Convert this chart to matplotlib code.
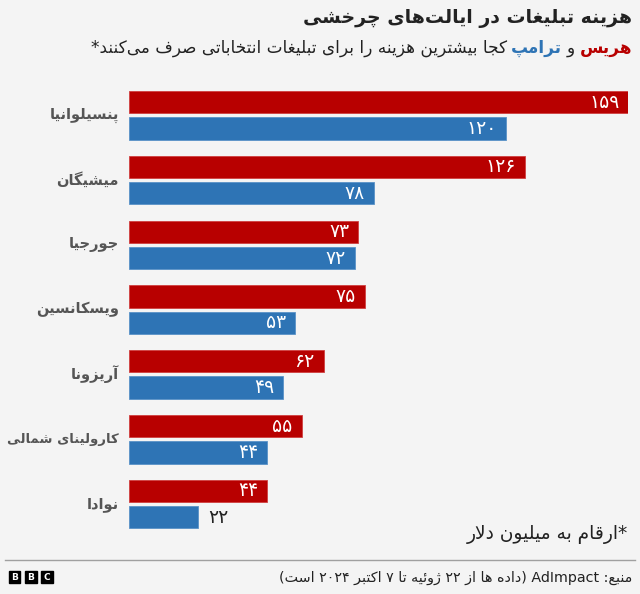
import re
import numpy as np
import matplotlib
matplotlib.use("Agg")
import matplotlib.pyplot as plt
from matplotlib.patches import Rectangle

# data
states = ["پنسیلوانیا", "میشیگان", "جورجیا", "ویسکانسین", "آریزونا", "کارولینای شمالی", "نوادا"]
harris = [159, 126, 73, 75, 62, 55, 44]
trump = [120, 78, 72, 53, 49, 44, 22]

title = "هزینه تبلیغات در ایالت‌های چرخشی"
subtitle_parts = ["هریس", "و", "ترامپ", "کجا بیشترین هزینه را برای تبلیغات انتخاباتی صرف می‌کنند*"]
note = "*ارقام به میلیون دلار"
source = "منبع: AdImpact (داده ها از ۲۲ ژوئیه تا ۷ اکتبر ۲۰۲۴ است)"

RED = "#B80000"
BLUE = "#2E74B5"
DARK = "#222222"
GREY = "#555555"
BG = "#F4F4F4"

# --- minimal arabic/persian shaping (isolated, final, initial, medial)
FORMS = {
    "\u0627": ("\uFE8D", "\uFE8E", None, None),
    "\u0622": ("\uFE81", "\uFE82", None, None),
    "\u0628": ("\uFE8F", "\uFE90", "\uFE91", "\uFE92"),
    "\u067E": ("\uFB56", "\uFB57", "\uFB58", "\uFB59"),
    "\u062A": ("\uFE95", "\uFE96", "\uFE97", "\uFE98"),
    "\u062C": ("\uFE9D", "\uFE9E", "\uFE9F", "\uFEA0"),
    "\u0686": ("\uFB7A", "\uFB7B", "\uFB7C", "\uFB7D"),
    "\u062E": ("\uFEA5", "\uFEA6", "\uFEA7", "\uFEA8"),
    "\u062F": ("\uFEA9", "\uFEAA", None, None),
    "\u0631": ("\uFEAD", "\uFEAE", None, None),
    "\u0632": ("\uFEAF", "\uFEB0", None, None),
    "\u0698": ("\uFB8A", "\uFB8B", None, None),
    "\u0633": ("\uFEB1", "\uFEB2", "\uFEB3", "\uFEB4"),
    "\u0634": ("\uFEB5", "\uFEB6", "\uFEB7", "\uFEB8"),
    "\u0635": ("\uFEB9", "\uFEBA", "\uFEBB", "\uFEBC"),
    "\u0639": ("\uFEC9", "\uFECA", "\uFECB", "\uFECC"),
    "\u063A": ("\uFECD", "\uFECE", "\uFECF", "\uFED0"),
    "\u0641": ("\uFED1", "\uFED2", "\uFED3", "\uFED4"),
    "\u0642": ("\uFED5", "\uFED6", "\uFED7", "\uFED8"),
    "\u06A9": ("\uFB8E", "\uFB8F", "\uFB90", "\uFB91"),
    "\u06AF": ("\uFB92", "\uFB93", "\uFB94", "\uFB95"),
    "\u0644": ("\uFEDD", "\uFEDE", "\uFEDF", "\uFEE0"),
    "\u0645": ("\uFEE1", "\uFEE2", "\uFEE3", "\uFEE4"),
    "\u0646": ("\uFEE5", "\uFEE6", "\uFEE7", "\uFEE8"),
    "\u0648": ("\uFEED", "\uFEEE", None, None),
    "\u0647": ("\uFEE9", "\uFEEA", "\uFEEB", "\uFEEC"),
    "\u06CC": ("\uFBFC", "\uFBFD", "\uFBFE", "\uFBFF"),
    "\u0626": ("\uFE89", "\uFE8A", "\uFE8B", "\uFE8C"),
}


def shape(s):
    out = []
    i = 0
    n = len(s)
    while i < n:
        c = s[i]
        if c not in FORMS:
            out.append(c)
            i += 1
            continue
        prev = s[i - 1] if i > 0 else ""
        join_prev = prev in FORMS and FORMS[prev][2] is not None
        # lam-alef ligature
        if c == "\u0644" and i + 1 < n and s[i + 1] == "\u0627":
            out.append("\uFEFC" if join_prev else "\uFEFB")
            i += 2
            continue
        nxt = s[i + 1] if i + 1 < n else ""
        dual = FORMS[c][2] is not None
        join_next = dual and nxt in FORMS
        iso, fin, ini, med = FORMS[c]
        if join_prev and join_next:
            out.append(med)
        elif join_prev:
            out.append(fin)
        elif join_next:
            out.append(ini)
        else:
            out.append(iso)
        i += 1
    return "".join(out)


def rtl(s):
    v = shape(s).replace("\u200c", "")[::-1]
    v = re.sub(r"[A-Za-z0-9\u06F0-\u06F9]+", lambda m: m.group(0)[::-1], v)
    return v.translate(str.maketrans("()", ")("))


def fa_num(v):
    return str(v).translate(str.maketrans("0123456789", "۰۱۲۳۴۵۶۷۸۹"))


plt.rcParams["font.family"] = ["DejaVu Sans"]

W, H = 640, 594
fig = plt.figure(figsize=(W / 100, H / 100), dpi=100, facecolor=BG)
renderer = fig.canvas.get_renderer()


def fx(px):
    return px / W


def fy(py):
    return 1 - py / H


# axes placed so that 0..159 maps to px 129..628
x0, x1 = 129, 628.3
ax_top, ax_bot = 80, 540
ax = fig.add_axes([fx(x0), fy(ax_bot), fx(x1) - fx(x0), fy(ax_top) - fy(ax_bot)])
ax.set_facecolor(BG)
spacing = 64.8
ax.set_xlim(0, 159)
ax.set_ylim((ax_bot - 115.3) / spacing, (ax_top - 115.3) / spacing)

ypos = np.arange(len(states))
h = 22.3 / spacing
off = 13.15 / spacing
ax.barh(ypos - off, harris, height=h, color=RED, edgecolor="#D04040", linewidth=0.6)
ax.barh(ypos + off, trump, height=h, color=BLUE, edgecolor="#5A92C8", linewidth=0.6)

px_unit = 159 / (x1 - x0)
for i in range(len(states)):
    for val, dy in ((harris[i], -off), (trump[i], off)):
        if val > 30:
            ax.text(val - 9 * px_unit, i + dy, fa_num(val), ha="right", va="center",
                    color="white", fontsize=13.5)
        else:
            ax.text(val + 10 * px_unit, i + dy, fa_num(val), ha="left", va="center",
                    color=DARK, fontsize=13.5)
    lab = ax.text(-10 * px_unit, i, rtl(states[i]), ha="right", va="center",
                  color=GREY, fontsize=10.5, fontweight="bold")
    wl = lab.get_window_extent(renderer).width
    if wl > 112:
        lab.set_fontsize(10.5 * 112 / wl)

for sp in ax.spines.values():
    sp.set_visible(False)
ax.set_xticks([])
ax.set_yticks([])

# title
fig.text(fx(632), fy(18), rtl(title), ha="right", va="center",
         fontsize=13.6, fontweight="bold", color=DARK)

# subtitle in coloured pieces, laid from the right
xr = 632
styles = [(RED, "bold"), (DARK, "normal"), (BLUE, "bold"), (DARK, "normal")]
for part, (col, wt) in zip(subtitle_parts, styles):
    t = fig.text(fx(xr), fy(53), rtl(part), ha="right", va="baseline",
                 fontsize=12.2, color=col, fontweight=wt)
    wpx = t.get_window_extent(renderer).width
    xr -= wpx + 4.5

# footnote
fig.text(fx(628), fy(535), rtl(note), ha="right", va="center", fontsize=13.4, color=DARK)

# divider
fig.add_artist(plt.Line2D([fx(5), fx(635)], [fy(560), fy(560)], color="#A0A0A0", lw=1))

# source
fig.text(fx(632), fy(578), rtl(source), ha="right", va="center", fontsize=10.3, color=DARK)

# BBC blocks
for k, letter in enumerate("BBC"):
    bx = 8.5 + k * 16.2
    fig.add_artist(Rectangle((fx(bx), fy(583)), fx(12), fy(571) - fy(583),
                             transform=fig.transFigure, color="black"))
    fig.text(fx(bx + 6), fy(577), letter, ha="center", va="center",
             fontsize=6.5, fontweight="bold", color="white")

fig.savefig("out.png", dpi=100, facecolor=BG)
